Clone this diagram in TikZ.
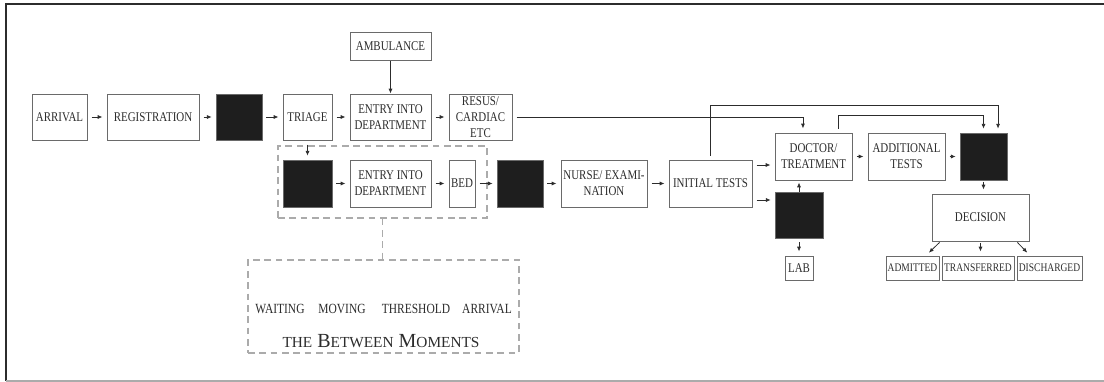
\documentclass[tikz,border=0pt]{standalone}
\usepackage{fontspec}
\setmainfont[FakeStretch=0.82]{Liberation Serif}
\newfontfamily\titlefont{Liberation Serif}
\usepackage{xcolor}
\usetikzlibrary{arrows.meta,positioning}
\definecolor{inkgray}{HTML}{2C2C2C}
\definecolor{boxgray}{HTML}{6A6A6A}
\definecolor{dashgray}{HTML}{ABABAB}
\definecolor{blockfill}{HTML}{1E1E1E}
\newcommand{\lowcaps}[1]{{\fontsize{11.5}{14}\selectfont #1}}

\begin{document}
\begin{tikzpicture}[x=0.75pt,y=-0.75pt,
  every node/.style={font=\fontsize{10}{12}\selectfont,text=inkgray,align=center,inner sep=1pt},
  stage/.style={draw=boxgray,line width=0.75pt,minimum height=34.5pt},
  hold/.style={draw=boxgray,fill=blockfill,minimum height=34.5pt},
  outcome/.style={draw=boxgray,line width=0.75pt,minimum height=18pt,inner sep=0.5pt,
    font=\fontsize{8.7}{10}\selectfont},
  flow/.style={-{Latex[length=3.6pt,width=3pt]},draw=inkgray,line width=0.6pt,
    shorten <=3pt,shorten >=3pt},
  zone/.style={draw=dashgray,dash pattern=on 5pt off 3.5pt,line width=0.8pt}]
  \useasboundingbox (0,0) rectangle (1104,382);
  % frame
  \draw[inkgray,line width=1pt] (6,381) -- (6,4) -- (1104,4);
  \draw[dashgray,line width=1pt] (6,381) -- (1104,381);

  % the corridor and the between moments
  \node[zone,minimum width=156.75pt,minimum height=54pt] (corridor) at (382.5,182) {};
  \node[zone,minimum width=203.25pt,minimum height=69.75pt] (moments) at (383.5,306.5) {};
  \node[font=\fontsize{10.5}{12}\selectfont] (waiting) at (280,308.5) {WAITING};
  \node[font=\fontsize{10.5}{12}\selectfont] (moving) at (342,308.5) {MOVING};
  \node[font=\fontsize{10.5}{12}\selectfont] (threshold) at (416,308.5) {THRESHOLD};
  \node[font=\fontsize{10.5}{12}\selectfont] (reaching) at (487,308.5) {ARRIVAL};
  \node[font=\titlefont\fontsize{15}{18}\selectfont] (between) at (381,341)
    {\lowcaps{THE} B\lowcaps{ETWEEN} M\lowcaps{OMENTS}};

  % top row
  \node[stage,minimum width=41.25pt] (arrival) at (59.5,117) {ARRIVAL};
  \node[stage,minimum width=69pt] (registration) at (153,117) {REGISTRATION};
  \node[hold,minimum width=34.5pt] (hold1) at (239,117) {};
  \node[stage,minimum width=36.75pt] (triage) at (307.5,117) {TRIAGE};
  \node[stage,minimum width=60.75pt] (entrytop) at (390.5,117) {ENTRY INTO\\DEPARTMENT};
  \node[stage,minimum width=60.75pt,minimum height=21pt] (ambulance) at (390.5,46) {AMBULANCE};
  \node[stage,minimum width=47.25pt] (resus) at (480.5,117) {RESUS/\\CARDIAC\\ETC};

  % second row
  \node[hold,minimum width=36.75pt,minimum height=35.25pt] (hold2) at (307.5,183.5) {};
  \node[stage,minimum width=60.75pt,minimum height=35.25pt] (entrylow) at (390.5,183.5) {ENTRY INTO\\DEPARTMENT};
  \node[stage,minimum width=19.5pt,minimum height=35.25pt] (bed) at (462,183.5) {BED};
  \node[hold,minimum width=34.5pt,minimum height=35.25pt] (hold3) at (520,183.5) {};
  \node[stage,minimum width=64.5pt,minimum height=35.25pt] (nurse) at (604,183.5) {NURSE/ EXAMI-\\NATION};
  \node[stage,minimum width=62.25pt,minimum height=35.25pt] (initial) at (710.5,183.5) {INITIAL TESTS};

  % right part
  \node[stage,minimum width=57.75pt,minimum height=35.25pt] (doctor) at (813.5,156.5) {DOCTOR/\\TREATMENT};
  \node[hold,minimum width=36pt] (hold4) at (799,215) {};
  \node[stage,minimum width=21pt,minimum height=18pt] (lab) at (799,268) {LAB};
  \node[stage,minimum width=57.75pt,minimum height=35.25pt] (additional) at (906.5,156.5) {ADDITIONAL\\TESTS};
  \node[hold,minimum width=35.25pt,minimum height=35.25pt] (hold5) at (983.5,156.5) {};
  \node[stage,minimum width=72.75pt,minimum height=35.25pt] (decision) at (980.5,217.5) {DECISION};
  \node[outcome,minimum width=39.75pt] (admitted) at (912.5,268) {ADMITTED};
  \node[outcome,minimum width=54pt] (transferred) at (978,268) {TRANSFERRED};
  \node[outcome,minimum width=48.75pt] (discharged) at (1049.5,268) {DISCHARGED};

  % connectors
  \draw[flow] (arrival) -- (registration);
  \draw[flow] (registration) -- (hold1);
  \draw[flow] (hold1) -- (triage);
  \draw[flow] (triage) -- (entrytop);
  \draw[flow] (entrytop) -- (resus);
  \draw[flow,shorten <=0pt,shorten >=0pt] (ambulance) -- (entrytop);
  \draw[flow] (triage) -- (hold2);
  \draw[flow] (hold2) -- (entrylow);
  \draw[flow] (entrylow) -- (bed);
  \draw[flow] (bed) -- (hold3);
  \draw[flow] (hold3) -- (nurse);
  \draw[flow] (nurse) -- (initial);
  \draw[flow] (resus.east) -| ([xshift=-7.9pt]doctor.north);
  \draw[flow] (initial.north) -- ++(0,-54) -| ([xshift=10.9pt]hold5.north);
  \draw[flow] ([xshift=18.4pt]doctor.north) -- ++(0,-17) -| (hold5.north);
  \draw[flow] (initial.east |- 0,165) -- (doctor.west |- 0,165);
  \draw[flow] (initial.east |- 0,200) -- (hold4.west |- 0,200);
  \draw[flow,shorten <=0pt,shorten >=1.5pt] (hold4.north) -- (hold4.north |- doctor.south);
  \draw[flow] (hold4) -- (lab);
  \draw[flow] (doctor) -- (additional);
  \draw[flow] (additional) -- (hold5);
  \draw[flow,shorten <=1pt] (hold5.south) -- (hold5.south |- decision.north);
  \draw[flow,shorten <=1pt] ([xshift=6.75pt]decision.south west) -- ([xshift=10.1pt]admitted.north);
  \draw[flow,shorten <=1pt] (decision.south) -- (decision.south |- transferred.north);
  \draw[flow,shorten <=1pt] ([xshift=-9.75pt]decision.south east) -- ([xshift=-14.6pt]discharged.north);
  \draw[zone] (corridor.south) -- (corridor.south |- moments.north);
\end{tikzpicture}
\end{document}
